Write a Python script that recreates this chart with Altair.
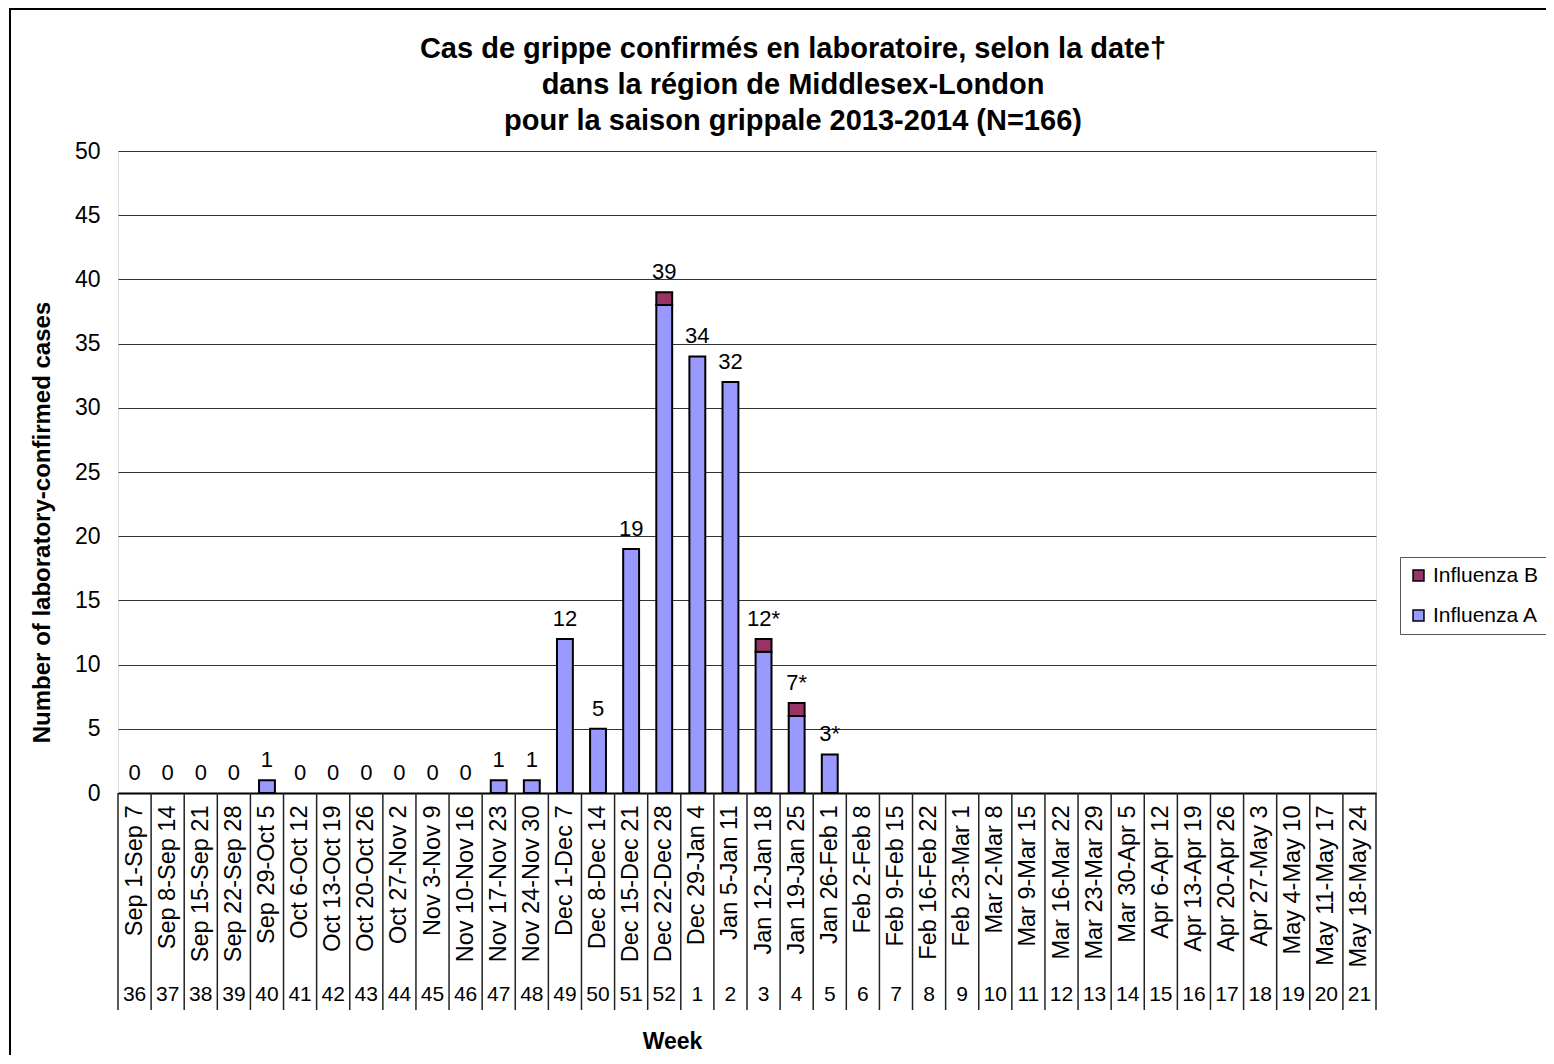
import altair as alt
import pandas as pd

dates = ["Sep 1-Sep 7", "Sep 8-Sep 14", "Sep 15-Sep 21", "Sep 22-Sep 28", "Sep 29-Oct 5",
         "Oct 6-Oct 12", "Oct 13-Oct 19", "Oct 20-Oct 26", "Oct 27-Nov 2", "Nov 3-Nov 9",
         "Nov 10-Nov 16", "Nov 17-Nov 23", "Nov 24-Nov 30", "Dec 1-Dec 7", "Dec 8-Dec 14",
         "Dec 15-Dec 21", "Dec 22-Dec 28", "Dec 29-Jan 4", "Jan 5-Jan 11", "Jan 12-Jan 18",
         "Jan 19-Jan 25", "Jan 26-Feb 1", "Feb 2-Feb 8", "Feb 9-Feb 15", "Feb 16-Feb 22",
         "Feb 23-Mar 1", "Mar 2-Mar 8", "Mar 9-Mar 15", "Mar 16-Mar 22", "Mar 23-Mar 29",
         "Mar 30-Apr 5", "Apr 6-Apr 12", "Apr 13-Apr 19", "Apr 20-Apr 26", "Apr 27-May 3",
         "May 4-May 10", "May 11-May 17", "May 18-May 24"]
weeks = [36, 37, 38, 39, 40, 41, 42, 43, 44, 45, 46, 47, 48, 49, 50, 51, 52,
         1, 2, 3, 4, 5, 6, 7, 8, 9, 10, 11, 12, 13, 14, 15, 16, 17, 18, 19, 20, 21]
flu_a = [0, 0, 0, 0, 1, 0, 0, 0, 0, 0, 0, 1, 1, 12, 5, 19, 38, 34, 32, 11, 6, 3,
         0, 0, 0, 0, 0, 0, 0, 0, 0, 0, 0, 0, 0, 0, 0, 0]
flu_b = [0, 0, 0, 0, 0, 0, 0, 0, 0, 0, 0, 0, 0, 0, 0, 0, 1, 0, 0, 1, 1, 0,
         0, 0, 0, 0, 0, 0, 0, 0, 0, 0, 0, 0, 0, 0, 0, 0]
bar_labels = ["0", "0", "0", "0", "1", "0", "0", "0", "0", "0", "0", "1", "1", "12", "5",
              "19", "39", "34", "32", "12*", "7*", "3*",
              "", "", "", "", "", "", "", "", "", "", "", "", "", "", "", ""]
title_lines = ["Cas de grippe confirmés en laboratoire, selon la date†",
               "dans la région de Middlesex-London",
               "pour la saison grippale 2013-2014  (N=166)"]

W, H = 1258, 642
FONT = "Liberation Sans"
PAD_INNER = 0.52
STEP = W / len(dates)
SEP_SHIFT = -STEP * PAD_INNER / 2

rows = []
for d, a, b in zip(dates, flu_a, flu_b):
    rows.append({"date": d, "type": "Influenza A", "cases": a, "ord": 0})
    rows.append({"date": d, "type": "Influenza B", "cases": b, "ord": 1})
stack_df = pd.DataFrame(rows)
stack_df = stack_df[stack_df.cases > 0]

tot_df = pd.DataFrame({"date": dates, "week": [str(w) for w in weeks],
                       "total": [a + b for a, b in zip(flu_a, flu_b)],
                       "label": bar_labels})

xscale = alt.Scale(domain=dates, paddingInner=PAD_INNER, paddingOuter=PAD_INNER / 2)

bars = alt.Chart(stack_df).mark_bar(stroke="black", strokeWidth=2).encode(
    x=alt.X("date:N", scale=xscale, sort=dates,
            axis=alt.Axis(title="Week", labelAngle=270, labelAlign="right",
                          labelBaseline="middle", labelFontSize=23.5, labelFont=FONT,
                          labelColor="black", labelPadding=12, ticks=False,
                          labelOverlap=False,
                          domain=True, domainColor="black", domainWidth=2,
                          titleFont=FONT, titleFontSize=23, titleFontWeight="bold",
                          titleColor="black", titleX=554, titleY=248,
                          titleAlign="center", titleBaseline="middle")),
    y=alt.Y("cases:Q", stack="zero",
            scale=alt.Scale(domain=[0, 50]),
            axis=alt.Axis(values=list(range(0, 51, 5)), title="Number of laboratory-confirmed cases",
                          ticks=False, domain=False, grid=True, gridColor="#333333",
                          gridWidth=1, labelFontSize=23, labelFont=FONT, labelColor="black",
                          labelPadding=18, titleFont=FONT, titleFontSize=24,
                          titleFontWeight="bold", titleColor="black",
                          titleX=-76, titleY=371, titleAngle=270,
                          titleAlign="center", titleBaseline="middle")),
    color=alt.Color("type:N",
                    scale=alt.Scale(domain=["Influenza B", "Influenza A"],
                                    range=["#993366", "#9999FF"]),
                    legend=alt.Legend(title=None, orient="none", legendX=1282, legendY=406,
                                      labelFont=FONT, labelFontSize=21, labelColor="black",
                                      symbolType="square", symbolSize=120,
                                      symbolStrokeColor="black", symbolStrokeWidth=1.5,
                                      rowPadding=18, strokeColor="#555555",
                                      padding=8, labelOffset=4)),
    order=alt.Order("ord:Q"),
)

labels = alt.Chart(tot_df).mark_text(baseline="bottom", dy=-8, fontSize=22,
                                     font=FONT, color="black").encode(
    x=alt.X("date:N", scale=xscale, sort=dates),
    y=alt.Y("total:Q"),
    text="label:N",
)

seps = alt.Chart(tot_df).mark_rule(color="#222222", strokeWidth=1.5,
                                   xOffset=SEP_SHIFT).encode(
    x=alt.X("date:N", scale=xscale, sort=dates, bandPosition=0),
    y=alt.value(H),
    y2=alt.value(H + 217),
)
right_sep = alt.Chart(tot_df.head(1)).mark_rule(color="#222222", strokeWidth=1.5).encode(
    x=alt.value(W), y=alt.value(H), y2=alt.value(H + 217))

week_text = alt.Chart(tot_df).mark_text(fontSize=21, font=FONT, color="black",
                                        baseline="middle").encode(
    x=alt.X("date:N", scale=xscale, sort=dates),
    y=alt.value(H + 202),
    text="week:N",
)

title_text = alt.Chart(tot_df.head(1)).mark_text(
    font=FONT, fontSize=29, fontWeight="bold", color="black", lineHeight=36,
    baseline="middle", align="center").encode(
    x=alt.value(W / 2 + 46), y=alt.value(-102), text=alt.value(title_lines))

border = alt.Chart(tot_df.head(1)).mark_rect(fill=None, stroke="black",
                                             strokeWidth=2).encode(
    x=alt.value(-108), x2=alt.value(1450), y=alt.value(-142), y2=alt.value(940))

chart = alt.layer(border, bars, labels, seps, right_sep, week_text, title_text).properties(
    width=W, height=H,
    padding={"left": 110, "top": 143, "right": 170, "bottom": 262},
    autosize=alt.AutoSizeParams(type="none"),
).configure_view(stroke="black", strokeWidth=2).configure(background="white")

chart.save("out.html", embed_options={"renderer": "svg", "actions": False})
